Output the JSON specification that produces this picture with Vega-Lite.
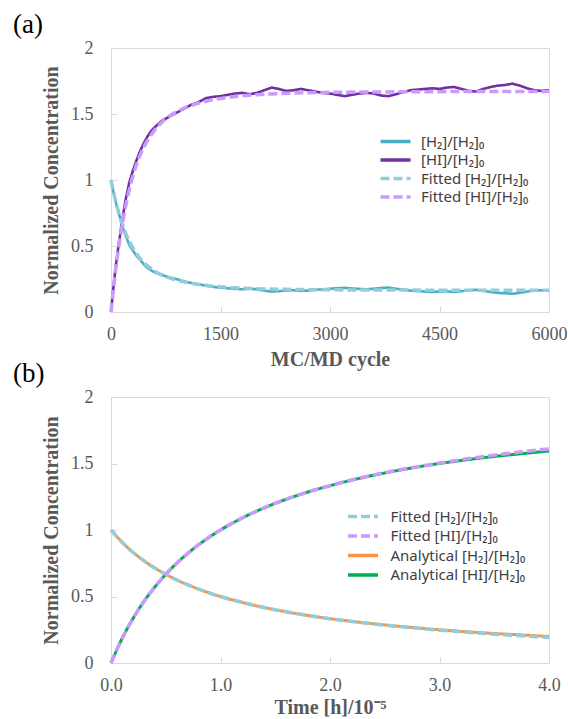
{
  "$schema": "https://vega.github.io/schema/vega-lite/v6.json",
  "background": "white",
  "padding": {"left": 12, "top": 10, "right": 5, "bottom": 0},
  "datasets": {
    "a_data": [
      {"t":0,"v":1.0,"s":"H2"},{"t":25,"v":0.93,"s":"H2"},{"t":50,"v":0.87,"s":"H2"},{"t":75,"v":0.81,"s":"H2"},{"t":100,"v":0.76,"s":"H2"},{"t":150,"v":0.66,"s":"H2"},{"t":200,"v":0.58,"s":"H2"},{"t":250,"v":0.51,"s":"H2"},{"t":300,"v":0.465,"s":"H2"},{"t":350,"v":0.425,"s":"H2"},{"t":400,"v":0.395,"s":"H2"},{"t":450,"v":0.36,"s":"H2"},{"t":500,"v":0.335,"s":"H2"},{"t":550,"v":0.315,"s":"H2"},{"t":600,"v":0.3,"s":"H2"},{"t":700,"v":0.28,"s":"H2"},{"t":800,"v":0.262,"s":"H2"},{"t":900,"v":0.25,"s":"H2"},{"t":1000,"v":0.232,"s":"H2"},{"t":1100,"v":0.22,"s":"H2"},{"t":1200,"v":0.21,"s":"H2"},{"t":1300,"v":0.2,"s":"H2"},{"t":1400,"v":0.19,"s":"H2"},{"t":1500,"v":0.185,"s":"H2"},{"t":1600,"v":0.18,"s":"H2"},{"t":1700,"v":0.175,"s":"H2"},{"t":1800,"v":0.172,"s":"H2"},{"t":1900,"v":0.176,"s":"H2"},{"t":2000,"v":0.172,"s":"H2"},{"t":2100,"v":0.162,"s":"H2"},{"t":2200,"v":0.155,"s":"H2"},{"t":2300,"v":0.158,"s":"H2"},{"t":2400,"v":0.163,"s":"H2"},{"t":2500,"v":0.165,"s":"H2"},{"t":2600,"v":0.16,"s":"H2"},{"t":2700,"v":0.162,"s":"H2"},{"t":2800,"v":0.168,"s":"H2"},{"t":2900,"v":0.172,"s":"H2"},{"t":3000,"v":0.176,"s":"H2"},{"t":3100,"v":0.18,"s":"H2"},{"t":3200,"v":0.183,"s":"H2"},{"t":3300,"v":0.178,"s":"H2"},{"t":3400,"v":0.175,"s":"H2"},{"t":3500,"v":0.172,"s":"H2"},{"t":3600,"v":0.176,"s":"H2"},{"t":3700,"v":0.182,"s":"H2"},{"t":3800,"v":0.185,"s":"H2"},{"t":3900,"v":0.176,"s":"H2"},{"t":4000,"v":0.17,"s":"H2"},{"t":4100,"v":0.162,"s":"H2"},{"t":4200,"v":0.158,"s":"H2"},{"t":4300,"v":0.155,"s":"H2"},{"t":4400,"v":0.152,"s":"H2"},{"t":4500,"v":0.155,"s":"H2"},{"t":4600,"v":0.157,"s":"H2"},{"t":4700,"v":0.152,"s":"H2"},{"t":4800,"v":0.158,"s":"H2"},{"t":4900,"v":0.164,"s":"H2"},{"t":5000,"v":0.168,"s":"H2"},{"t":5100,"v":0.16,"s":"H2"},{"t":5200,"v":0.152,"s":"H2"},{"t":5300,"v":0.145,"s":"H2"},{"t":5400,"v":0.142,"s":"H2"},{"t":5500,"v":0.138,"s":"H2"},{"t":5600,"v":0.146,"s":"H2"},{"t":5700,"v":0.155,"s":"H2"},{"t":5800,"v":0.162,"s":"H2"},{"t":5900,"v":0.165,"s":"H2"},{"t":6000,"v":0.16,"s":"H2"},
      {"t":0,"v":0.0,"s":"HI"},{"t":25,"v":0.14,"s":"HI"},{"t":50,"v":0.27,"s":"HI"},{"t":75,"v":0.39,"s":"HI"},{"t":100,"v":0.49,"s":"HI"},{"t":150,"v":0.68,"s":"HI"},{"t":200,"v":0.85,"s":"HI"},{"t":250,"v":0.98,"s":"HI"},{"t":300,"v":1.07,"s":"HI"},{"t":350,"v":1.15,"s":"HI"},{"t":400,"v":1.22,"s":"HI"},{"t":450,"v":1.28,"s":"HI"},{"t":500,"v":1.33,"s":"HI"},{"t":550,"v":1.37,"s":"HI"},{"t":600,"v":1.4,"s":"HI"},{"t":700,"v":1.45,"s":"HI"},{"t":800,"v":1.48,"s":"HI"},{"t":900,"v":1.51,"s":"HI"},{"t":1000,"v":1.54,"s":"HI"},{"t":1100,"v":1.57,"s":"HI"},{"t":1200,"v":1.59,"s":"HI"},{"t":1300,"v":1.62,"s":"HI"},{"t":1400,"v":1.63,"s":"HI"},{"t":1500,"v":1.635,"s":"HI"},{"t":1600,"v":1.645,"s":"HI"},{"t":1700,"v":1.655,"s":"HI"},{"t":1800,"v":1.66,"s":"HI"},{"t":1900,"v":1.65,"s":"HI"},{"t":2000,"v":1.66,"s":"HI"},{"t":2100,"v":1.68,"s":"HI"},{"t":2200,"v":1.7,"s":"HI"},{"t":2300,"v":1.69,"s":"HI"},{"t":2400,"v":1.675,"s":"HI"},{"t":2500,"v":1.68,"s":"HI"},{"t":2600,"v":1.69,"s":"HI"},{"t":2700,"v":1.68,"s":"HI"},{"t":2800,"v":1.67,"s":"HI"},{"t":2900,"v":1.66,"s":"HI"},{"t":3000,"v":1.655,"s":"HI"},{"t":3100,"v":1.645,"s":"HI"},{"t":3200,"v":1.635,"s":"HI"},{"t":3300,"v":1.645,"s":"HI"},{"t":3400,"v":1.655,"s":"HI"},{"t":3500,"v":1.66,"s":"HI"},{"t":3600,"v":1.655,"s":"HI"},{"t":3700,"v":1.64,"s":"HI"},{"t":3800,"v":1.635,"s":"HI"},{"t":3900,"v":1.65,"s":"HI"},{"t":4000,"v":1.665,"s":"HI"},{"t":4100,"v":1.68,"s":"HI"},{"t":4200,"v":1.685,"s":"HI"},{"t":4300,"v":1.69,"s":"HI"},{"t":4400,"v":1.695,"s":"HI"},{"t":4500,"v":1.69,"s":"HI"},{"t":4600,"v":1.7,"s":"HI"},{"t":4700,"v":1.705,"s":"HI"},{"t":4800,"v":1.69,"s":"HI"},{"t":4900,"v":1.675,"s":"HI"},{"t":5000,"v":1.67,"s":"HI"},{"t":5100,"v":1.69,"s":"HI"},{"t":5200,"v":1.705,"s":"HI"},{"t":5300,"v":1.715,"s":"HI"},{"t":5400,"v":1.72,"s":"HI"},{"t":5500,"v":1.73,"s":"HI"},{"t":5600,"v":1.715,"s":"HI"},{"t":5700,"v":1.695,"s":"HI"},{"t":5800,"v":1.68,"s":"HI"},{"t":5900,"v":1.675,"s":"HI"},{"t":6000,"v":1.68,"s":"HI"}
    ],
    "a_fit": [
      {"t":0,"v":1.0,"s":"FH2"},{"t":50,"v":0.87,"s":"FH2"},{"t":100,"v":0.765,"s":"FH2"},{"t":150,"v":0.675,"s":"FH2"},{"t":200,"v":0.6,"s":"FH2"},{"t":300,"v":0.485,"s":"FH2"},{"t":400,"v":0.405,"s":"FH2"},{"t":500,"v":0.35,"s":"FH2"},{"t":600,"v":0.31,"s":"FH2"},{"t":700,"v":0.28,"s":"FH2"},{"t":800,"v":0.258,"s":"FH2"},{"t":1000,"v":0.228,"s":"FH2"},{"t":1200,"v":0.209,"s":"FH2"},{"t":1400,"v":0.196,"s":"FH2"},{"t":1600,"v":0.187,"s":"FH2"},{"t":2000,"v":0.177,"s":"FH2"},{"t":2500,"v":0.171,"s":"FH2"},{"t":3000,"v":0.168,"s":"FH2"},{"t":4000,"v":0.166,"s":"FH2"},{"t":5000,"v":0.165,"s":"FH2"},{"t":6000,"v":0.165,"s":"FH2"},
      {"t":0,"v":0.0,"s":"FHI"},{"t":50,"v":0.26,"s":"FHI"},{"t":100,"v":0.47,"s":"FHI"},{"t":150,"v":0.65,"s":"FHI"},{"t":200,"v":0.8,"s":"FHI"},{"t":300,"v":1.03,"s":"FHI"},{"t":400,"v":1.19,"s":"FHI"},{"t":500,"v":1.3,"s":"FHI"},{"t":600,"v":1.38,"s":"FHI"},{"t":700,"v":1.44,"s":"FHI"},{"t":800,"v":1.484,"s":"FHI"},{"t":1000,"v":1.544,"s":"FHI"},{"t":1200,"v":1.582,"s":"FHI"},{"t":1400,"v":1.608,"s":"FHI"},{"t":1600,"v":1.626,"s":"FHI"},{"t":2000,"v":1.646,"s":"FHI"},{"t":2500,"v":1.658,"s":"FHI"},{"t":3000,"v":1.664,"s":"FHI"},{"t":4000,"v":1.668,"s":"FHI"},{"t":5000,"v":1.67,"s":"FHI"},{"t":6000,"v":1.67,"s":"FHI"}
    ],
    "b_an": [
      {"t":0,"v":1.0,"s":"AH2"},{"t":0.1,"v":0.909,"s":"AH2"},{"t":0.2,"v":0.833,"s":"AH2"},{"t":0.3,"v":0.769,"s":"AH2"},{"t":0.4,"v":0.714,"s":"AH2"},{"t":0.5,"v":0.667,"s":"AH2"},{"t":0.6,"v":0.625,"s":"AH2"},{"t":0.8,"v":0.556,"s":"AH2"},{"t":1.0,"v":0.5,"s":"AH2"},{"t":1.2,"v":0.455,"s":"AH2"},{"t":1.4,"v":0.417,"s":"AH2"},{"t":1.6,"v":0.385,"s":"AH2"},{"t":1.8,"v":0.357,"s":"AH2"},{"t":2.0,"v":0.333,"s":"AH2"},{"t":2.25,"v":0.308,"s":"AH2"},{"t":2.5,"v":0.286,"s":"AH2"},{"t":2.75,"v":0.267,"s":"AH2"},{"t":3.0,"v":0.25,"s":"AH2"},{"t":3.25,"v":0.235,"s":"AH2"},{"t":3.5,"v":0.222,"s":"AH2"},{"t":3.75,"v":0.211,"s":"AH2"},{"t":4.0,"v":0.2,"s":"AH2"},
      {"t":0,"v":0.0,"s":"AHI"},{"t":0.1,"v":0.182,"s":"AHI"},{"t":0.2,"v":0.333,"s":"AHI"},{"t":0.3,"v":0.462,"s":"AHI"},{"t":0.4,"v":0.571,"s":"AHI"},{"t":0.5,"v":0.667,"s":"AHI"},{"t":0.6,"v":0.75,"s":"AHI"},{"t":0.8,"v":0.889,"s":"AHI"},{"t":1.0,"v":1.0,"s":"AHI"},{"t":1.2,"v":1.091,"s":"AHI"},{"t":1.4,"v":1.167,"s":"AHI"},{"t":1.6,"v":1.231,"s":"AHI"},{"t":1.8,"v":1.286,"s":"AHI"},{"t":2.0,"v":1.333,"s":"AHI"},{"t":2.25,"v":1.385,"s":"AHI"},{"t":2.5,"v":1.429,"s":"AHI"},{"t":2.75,"v":1.467,"s":"AHI"},{"t":3.0,"v":1.5,"s":"AHI"},{"t":3.25,"v":1.528,"s":"AHI"},{"t":3.5,"v":1.553,"s":"AHI"},{"t":3.75,"v":1.574,"s":"AHI"},{"t":4.0,"v":1.594,"s":"AHI"}
    ],
    "b_fit": [
      {"t":0,"v":1.0,"s":"BFH2"},{"t":0.1,"v":0.909,"s":"BFH2"},{"t":0.2,"v":0.833,"s":"BFH2"},{"t":0.3,"v":0.769,"s":"BFH2"},{"t":0.4,"v":0.714,"s":"BFH2"},{"t":0.5,"v":0.667,"s":"BFH2"},{"t":0.6,"v":0.625,"s":"BFH2"},{"t":0.8,"v":0.556,"s":"BFH2"},{"t":1.0,"v":0.5,"s":"BFH2"},{"t":1.2,"v":0.455,"s":"BFH2"},{"t":1.4,"v":0.417,"s":"BFH2"},{"t":1.6,"v":0.385,"s":"BFH2"},{"t":1.8,"v":0.357,"s":"BFH2"},{"t":2.0,"v":0.333,"s":"BFH2"},{"t":2.25,"v":0.307,"s":"BFH2"},{"t":2.5,"v":0.285,"s":"BFH2"},{"t":2.75,"v":0.265,"s":"BFH2"},{"t":3.0,"v":0.247,"s":"BFH2"},{"t":3.25,"v":0.231,"s":"BFH2"},{"t":3.5,"v":0.217,"s":"BFH2"},{"t":3.75,"v":0.204,"s":"BFH2"},{"t":4.0,"v":0.192,"s":"BFH2"},
      {"t":0,"v":0.0,"s":"BFHI"},{"t":0.1,"v":0.182,"s":"BFHI"},{"t":0.2,"v":0.333,"s":"BFHI"},{"t":0.3,"v":0.462,"s":"BFHI"},{"t":0.4,"v":0.571,"s":"BFHI"},{"t":0.5,"v":0.667,"s":"BFHI"},{"t":0.6,"v":0.75,"s":"BFHI"},{"t":0.8,"v":0.889,"s":"BFHI"},{"t":1.0,"v":1.0,"s":"BFHI"},{"t":1.2,"v":1.091,"s":"BFHI"},{"t":1.4,"v":1.167,"s":"BFHI"},{"t":1.6,"v":1.231,"s":"BFHI"},{"t":1.8,"v":1.286,"s":"BFHI"},{"t":2.0,"v":1.334,"s":"BFHI"},{"t":2.25,"v":1.386,"s":"BFHI"},{"t":2.5,"v":1.431,"s":"BFHI"},{"t":2.75,"v":1.469,"s":"BFHI"},{"t":3.0,"v":1.503,"s":"BFHI"},{"t":3.25,"v":1.535,"s":"BFHI"},{"t":3.5,"v":1.563,"s":"BFHI"},{"t":3.75,"v":1.588,"s":"BFHI"},{"t":4.0,"v":1.61,"s":"BFHI"}
    ]
  },
  "vconcat": [
    {
      "width": 438,
      "height": 264,
      "title": {"text": "(a)", "anchor": "start", "frame": "group", "dx": -98, "offset": -21, "baseline": "alphabetic", "font": "Liberation Serif", "fontSize": 27, "fontWeight": "normal", "color": "#000000"},
      "layer": [
        {
          "data": {"name": "a_data"},
          "mark": {"type": "line", "strokeWidth": 2.6},
          "encoding": {
            "x": {"field": "t", "type": "quantitative", "scale": {"domain": [0, 6000], "nice": false}, "axis": {"values": [0, 1500, 3000, 4500, 6000], "format": "d", "title": "MC/MD cycle"}},
            "y": {"field": "v", "type": "quantitative", "scale": {"domain": [0, 2], "nice": false}, "axis": {"values": [0, 0.5, 1, 1.5, 2], "format": "~g", "title": "Normalized Concentration"}},
            "color": {"field": "s", "type": "nominal", "scale": {"domain": ["H2", "HI", "FH2", "FHI"], "range": ["#4BACC6", "#7030A0", "#92CDDC", "#CC99FF"]},
              "legend": {"legendX": 275, "legendY": 84, "rowPadding": 0.5, "labelOffset": 16, "labelExpr": "datum.value == 'H2' ? '[H₂]/[H₂]₀' : datum.value == 'HI' ? '[HI]/[H₂]₀' : datum.value == 'FH2' ? 'Fitted [H₂]/[H₂]₀' : 'Fitted [HI]/[H₂]₀'"}},
            "strokeDash": {"field": "s", "type": "nominal", "scale": {"domain": ["H2", "HI", "FH2", "FHI"], "range": [[1, 0], [1, 0], [9, 4], [9, 4]]},
              "legend": {"legendX": 275, "legendY": 84, "rowPadding": 0.5, "labelOffset": 16, "labelExpr": "datum.value == 'H2' ? '[H₂]/[H₂]₀' : datum.value == 'HI' ? '[HI]/[H₂]₀' : datum.value == 'FH2' ? 'Fitted [H₂]/[H₂]₀' : 'Fitted [HI]/[H₂]₀'"}}
          }
        },
        {
          "data": {"name": "a_fit"},
          "mark": {"type": "line", "strokeWidth": 3.5, "interpolate": "monotone"},
          "encoding": {
            "x": {"field": "t", "type": "quantitative"},
            "y": {"field": "v", "type": "quantitative"},
            "color": {"field": "s", "type": "nominal"},
            "strokeDash": {"field": "s", "type": "nominal"}
          }
        }
      ]
    },
    {
      "width": 438,
      "height": 266,
      "title": {"text": "(b)", "anchor": "start", "frame": "group", "dx": -98, "offset": -21, "baseline": "alphabetic", "font": "Liberation Serif", "fontSize": 27, "fontWeight": "normal", "color": "#000000"},
      "layer": [
        {
          "data": {"name": "b_an"},
          "mark": {"type": "line", "strokeWidth": 3, "interpolate": "monotone"},
          "encoding": {
            "x": {"field": "t", "type": "quantitative", "scale": {"domain": [0, 4], "nice": false}, "axis": {"values": [0, 1, 2, 3, 4], "format": ".1f", "title": "Time [h]/10⁻⁵", "titlePadding": 3}},
            "y": {"field": "v", "type": "quantitative", "scale": {"domain": [0, 2], "nice": false}, "axis": {"values": [0, 0.5, 1, 1.5, 2], "format": "~g", "title": "Normalized Concentration"}},
            "color": {"field": "s", "type": "nominal", "scale": {"domain": ["BFH2", "BFHI", "AH2", "AHI"], "range": ["#92CDDC", "#CC99FF", "#F79646", "#00B050"]},
              "legend": {"legendX": 242.5, "legendY": 110, "rowPadding": 1.5, "labelOffset": 18, "labelExpr": "datum.value == 'BFH2' ? 'Fitted  [H₂]/[H₂]₀' : datum.value == 'BFHI' ? 'Fitted  [HI]/[H₂]₀' : datum.value == 'AH2' ? 'Analytical [H₂]/[H₂]₀' : 'Analytical [HI]/[H₂]₀'"}},
            "strokeDash": {"field": "s", "type": "nominal", "scale": {"domain": ["BFH2", "BFHI", "AH2", "AHI"], "range": [[9, 4], [9, 4], [1, 0], [1, 0]]},
              "legend": {"legendX": 242.5, "legendY": 110, "rowPadding": 1.5, "labelOffset": 18, "labelExpr": "datum.value == 'BFH2' ? 'Fitted  [H₂]/[H₂]₀' : datum.value == 'BFHI' ? 'Fitted  [HI]/[H₂]₀' : datum.value == 'AH2' ? 'Analytical [H₂]/[H₂]₀' : 'Analytical [HI]/[H₂]₀'"}}
          }
        },
        {
          "data": {"name": "b_fit"},
          "mark": {"type": "line", "strokeWidth": 3.5, "interpolate": "monotone"},
          "encoding": {
            "x": {"field": "t", "type": "quantitative"},
            "y": {"field": "v", "type": "quantitative"},
            "color": {"field": "s", "type": "nominal"},
            "strokeDash": {"field": "s", "type": "nominal"}
          }
        }
      ]
    }
  ],
  "spacing": -11,
  "resolve": {"scale": {"x": "independent", "y": "independent", "color": "independent", "strokeDash": "independent"}, "legend": {"color": "independent", "strokeDash": "independent"}},
  "config": {
    "view": {"stroke": "#d9d9d9", "strokeWidth": 1},
    "axis": {"grid": false, "domain": false, "ticks": true, "tickSize": -6, "tickColor": "#d9d9d9", "labelFont": "Liberation Serif", "labelFontSize": 18, "labelColor": "#595959", "labelFlush": false, "labelOverlap": false, "titleFont": "Liberation Serif", "titleFontSize": 20, "titleFontWeight": "bold", "titleColor": "#595959"},
    "axisX": {"labelPadding": 19, "titlePadding": 6},
    "axisY": {"labelPadding": 24, "titlePadding": 9},
    "legend": {"orient": "none", "title": null, "symbolType": "M-2,0H2", "symbolSize": 225, "symbolStrokeWidth": 3.5, "labelFont": "Noto Sans", "labelFontSize": 15, "labelColor": "#404040", "padding": 0}
  }
}
